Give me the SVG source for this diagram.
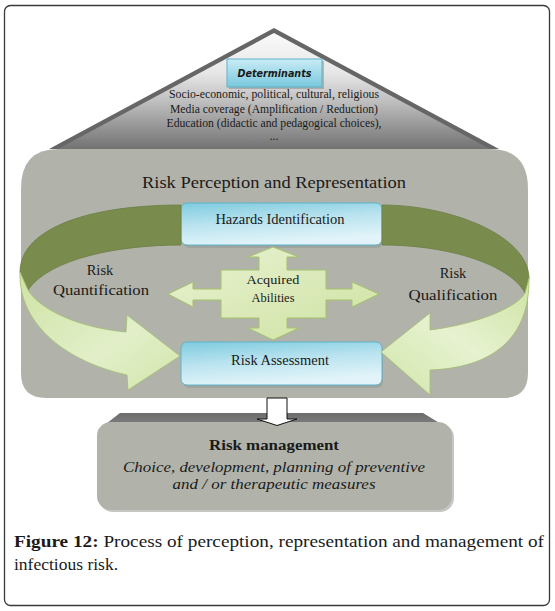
<svg xmlns="http://www.w3.org/2000/svg" width="555" height="611" viewBox="0 0 555 611">
<defs>
<linearGradient id="roofG" x1="0" y1="0" x2="0" y2="1">
<stop offset="0" stop-color="#fafafa"/>
<stop offset="0.35" stop-color="#e6e6e6"/>
<stop offset="0.6" stop-color="#bdbdbd"/>
<stop offset="0.85" stop-color="#8e8e8e"/>
<stop offset="1" stop-color="#727272"/>
</linearGradient>
<linearGradient id="blueG" x1="0" y1="0" x2="0.3" y2="1">
<stop offset="0" stop-color="#7ecbdf"/>
<stop offset="0.5" stop-color="#b9e3ef"/>
<stop offset="1" stop-color="#e2f4f9"/>
</linearGradient>
<linearGradient id="detG" x1="0" y1="0" x2="0" y2="1">
<stop offset="0" stop-color="#c9ecf5"/>
<stop offset="1" stop-color="#79c8dd"/>
</linearGradient>
<linearGradient id="lightL" x1="0" y1="0" x2="1" y2="1">
<stop offset="0" stop-color="#cfe3a4"/>
<stop offset="0.6" stop-color="#e2efc9"/>
<stop offset="1" stop-color="#d2e6aa"/>
</linearGradient>
<linearGradient id="lightR" x1="1" y1="0" x2="0" y2="1">
<stop offset="0" stop-color="#cfe3a4"/>
<stop offset="0.5" stop-color="#e6f2d0"/>
<stop offset="1" stop-color="#d2e6aa"/>
</linearGradient>
<linearGradient id="crossG" x1="0" y1="0" x2="1" y2="1">
<stop offset="0" stop-color="#e8f2d2"/>
<stop offset="1" stop-color="#cfe2a2"/>
</linearGradient>
<linearGradient id="bevelG" x1="0" y1="0" x2="0" y2="1">
<stop offset="0" stop-color="#6c6c6c"/>
<stop offset="1" stop-color="#858585"/>
</linearGradient>
</defs>
<style>
.box{fill:url(#blueG);stroke:#5fb3ca;stroke-width:1}
.dark{fill:#7a8c4d;stroke:#6c7d42;stroke-width:0.8}
.light{stroke:#a3bd70;stroke-width:0.8}
.panel{fill:#b1b3ab}
text{fill:#1a1a1a}
</style>
<rect x="4.5" y="5.5" width="545" height="600" rx="6" fill="#fff" stroke="#3a3a3a" stroke-width="1.3"/>

<g id="determinants">
<polygon points="274,28 49,149 499,149" fill="#666"/>
<polygon points="274,33 58,149 490,149" fill="url(#roofG)"/>
<rect x="229" y="61" width="95" height="28" fill="#888" opacity="0.5"/>
<rect x="227" y="59" width="95" height="28" fill="url(#detG)" stroke="#5fb3ca"/>
<text x="274.5" y="77" text-anchor="middle" font-family="DejaVu Sans, Verdana, sans-serif" font-weight="bold" font-style="italic" font-size="10" textLength="74" lengthAdjust="spacingAndGlyphs">Determinants</text>
<g font-family="Liberation Serif, Times New Roman, serif" font-size="11.5" text-anchor="middle">
<text x="274" y="98" textLength="210" lengthAdjust="spacingAndGlyphs">Socio-economic, political, cultural, religious</text>
<text x="274" y="113" textLength="208" lengthAdjust="spacingAndGlyphs">Media coverage (Amplification / Reduction)</text>
<text x="274" y="127" textLength="215" lengthAdjust="spacingAndGlyphs">Education (didactic and pedagogical choices),</text>
<text x="274" y="140">...</text>
</g>
</g>

<g id="risk-perception">
<path class="panel" d="M58,149 H490 Q528,149 528,189 V373 Q528,398 503,398 H46 Q21,398 21,373 V189 Q21,149 58,149 Z"/>
<text x="274" y="188" font-family="Liberation Serif, Times New Roman, serif" font-size="17" text-anchor="middle" textLength="264" lengthAdjust="spacingAndGlyphs">Risk Perception and Representation</text>
</g>

<g id="hazards-identification">
<rect x="183" y="206" width="200" height="42" rx="6" fill="#7d8a86" opacity="0.35"/>
<rect class="box" x="181" y="203" width="201" height="42" rx="6"/>
<text x="280" y="224" font-family="Liberation Serif, Times New Roman, serif" font-size="14.5" text-anchor="middle">Hazards Identification</text>
</g>

<g id="acquired-abilities">
<polygon points="273,247 299,257 287,257 287,270 326,270 326,289 352,289 352,282 379,294 352,307 352,300 326,300 326,318 287,318 287,328 299,328 273,340 248,328 259,328 259,318 221,318 221,300 193,300 193,307 168,294 193,282 193,289 221,289 221,270 259,270 259,257 248,257" fill="url(#crossG)" stroke="#a6c26a" stroke-width="1"/>
<text x="273" y="284" font-family="Liberation Serif, Times New Roman, serif" font-size="12.5" text-anchor="middle" textLength="53" lengthAdjust="spacingAndGlyphs">Acquired</text>
<text x="273" y="302" font-family="Liberation Serif, Times New Roman, serif" font-size="12.5" text-anchor="middle">Abilities</text>
</g>

<g id="risk-assessment">
<rect x="183" y="345" width="200" height="43" rx="6" fill="#7d8a86" opacity="0.35"/>
<rect class="box" x="181" y="342" width="201" height="43" rx="6"/>
<text x="280" y="365" font-family="Liberation Serif, Times New Roman, serif" font-size="14.5" text-anchor="middle">Risk Assessment</text>
</g>

<g id="risk-management">
<polygon points="120,413 423,413 451,430 98,430" fill="url(#bevelG)"/>
<rect x="99" y="424" width="355" height="88" rx="14" fill="#8d8f88" opacity="0.5"/>
<rect class="panel" x="97" y="422" width="355" height="88" rx="14"/>
<g font-family="Liberation Serif, Times New Roman, serif" text-anchor="middle">
<text x="274" y="450" font-size="15" font-weight="bold" textLength="130" lengthAdjust="spacingAndGlyphs">Risk management</text>
<text x="274" y="472" font-size="14" font-style="italic" textLength="302" lengthAdjust="spacingAndGlyphs">Choice, development, planning of preventive</text>
<text x="274" y="489" font-size="14" font-style="italic" textLength="203" lengthAdjust="spacingAndGlyphs">and / or therapeutic measures</text>
</g>
</g>

<g id="connectors">
<path class="dark" d="M181,205 C80,205 20,232 20,272 L28,290 C50,258 120,245 181,245 Z"/>
<path class="light" fill="url(#lightL)" d="M20,272 C18,320 60,360 127,375 L128,390 L180,356 L127,315 L126,332 C80,328 40,310 28,290 Z"/>
<path class="dark" d="M382,205 C450,205 528,235 529,278 L525,293 C510,265 450,245 382,245 Z"/>
<path class="light" fill="url(#lightR)" d="M529,278 C530,340 490,368 430,370 L430,395 L381,352 L430,313 L430,330 C470,325 515,310 525,293 Z"/>
<g font-family="Liberation Serif, Times New Roman, serif" font-size="14.5" text-anchor="middle">
<text x="100" y="275">Risk</text>
<text x="101" y="295" textLength="96" lengthAdjust="spacingAndGlyphs">Quantification</text>
<text x="453" y="278">Risk</text>
<text x="453" y="300" textLength="89" lengthAdjust="spacingAndGlyphs">Qualification</text>
</g>
<polygon points="267,398 287,398 287,419 297,419 277,425.5 257,419 267,419" fill="#fff" stroke="#111" stroke-width="1"/>
</g>

<g id="caption" font-family="Liberation Serif, Times New Roman, serif" font-size="17.5">
<text x="14" y="547" textLength="530" lengthAdjust="spacingAndGlyphs"><tspan font-weight="bold">Figure 12:</tspan> Process of perception, representation and management of</text>
<text x="14" y="570">infectious risk.</text>
</g>
</svg>
